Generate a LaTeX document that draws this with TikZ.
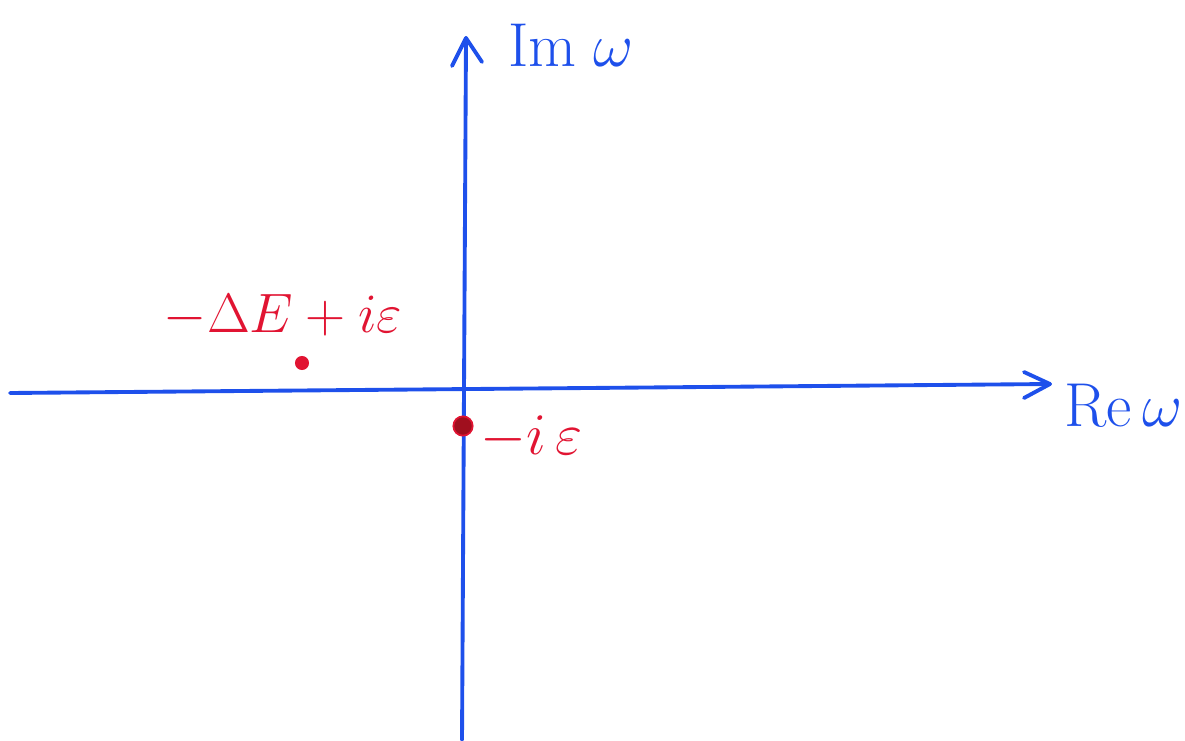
\documentclass[tikz,border=0pt]{standalone}
\usepackage{graphicx}
\usepackage{amsmath}
\definecolor{axisblue}{RGB}{30,80,235}
\definecolor{polered}{RGB}{225,20,50}
\definecolor{darkpole}{RGB}{160,15,30}
\tikzset{
  axis/.style={axisblue, line width=2.2pt, line cap=round},
  tip/.style={axisblue, line width=2.2pt, line cap=round, line join=round},
  bluelabel/.style={text=axisblue, inner sep=0pt, font=\Huge},
  redlabel/.style={text=polered, inner sep=0pt, font=\Huge},
}
\begin{document}
\begin{tikzpicture}[x=0.02cm, y=-0.02cm]
\useasboundingbox (0,0) rectangle (1185,740);
% axes
\coordinate (xs) at (10,393);
\coordinate (xe) at (1050,384);
\coordinate (ys) at (462,740);
\coordinate (ye) at (466,38);
\draw[axis] (xs) -- (xe);
\draw[axis] (ys) -- (ye);
\draw[tip] (1024,372) -- (xe) -- (1024,398);
\draw[tip] (452,66) -- (ye) -- (482,62);
% labels
\node[bluelabel, anchor=west] (im) at (508,45) {\scalebox{1.42}{$\mathrm{Im}\;\omega$}};
\node[bluelabel, anchor=west] (re) at (1064,405) {\scalebox{1.42}{$\mathrm{Re}\,\omega$}};
% poles
\node[circle, fill=polered, minimum size=8pt, inner sep=0pt] (p1) at (302,363) {};
\node[circle, fill=darkpole, draw=polered, line width=1pt, minimum size=11pt, inner sep=0pt] (p2) at (463,426) {};
\node[redlabel, anchor=center] (l1) at (283,316) {\scalebox{1.27}{$-\Delta E+i\varepsilon$}};
\node[redlabel, anchor=west] (l2) at (480,438) {\scalebox{1.35}{$-i\,\varepsilon$}};
\end{tikzpicture}
\end{document}
